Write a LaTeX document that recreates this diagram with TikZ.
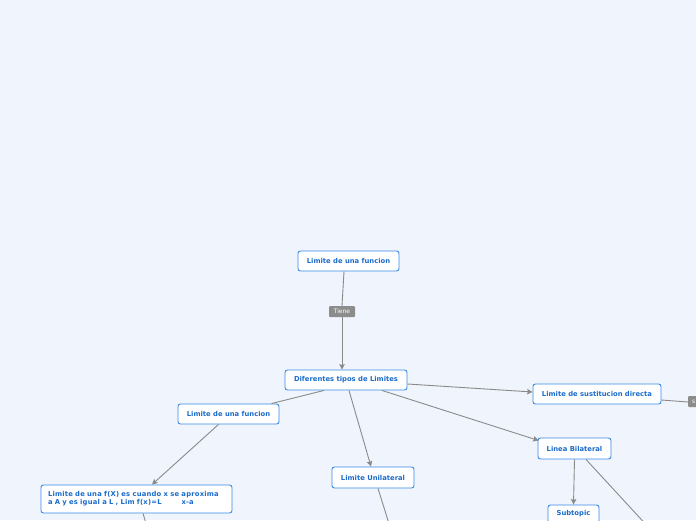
\documentclass[tikz,border=0pt]{standalone}
\usepackage{fontspec}
\setmainfont{DejaVu Sans}
\usetikzlibrary{arrows.meta,calc}
\definecolor{bgc}{HTML}{F0F4FC}
\definecolor{bordc}{HTML}{3A8AE6}
\definecolor{txtc}{HTML}{1B6CCB}
\definecolor{edgec}{HTML}{8A8A8A}
\definecolor{lblc}{HTML}{8C8C8C}
\tikzset{
  topic/.style={draw=bordc, line width=0.9pt, fill=white, rounded corners=2.5pt,
    text=txtc, font=\fontsize{6.8}{8.2}\selectfont\bfseries, inner sep=0pt, align=center},
  lbl/.style={fill=lblc, rounded corners=1pt, text=white, inner sep=0pt,
    font=\fontsize{6}{7}\selectfont, minimum height=11pt},
  conn/.style={draw=edgec, line width=0.9pt},
  arr/.style={conn, -{Stealth[length=5.5pt,width=5.5pt,inset=1pt]}}
}
\begin{document}
\begin{tikzpicture}[x=1pt,y=-1pt]
\clip (0,0) rectangle (696,520);
\fill[bgc] (0,0) rectangle (696,520);
\node[topic, minimum width=101pt, minimum height=20pt] (A) at (348.5,261) {Limite de una funcion};
\node[lbl, minimum width=26pt] (T) at (342,311.5) {Tiene};
\node[topic, minimum width=122pt, minimum height=20pt] (B) at (346,380) {Diferentes tipos de Limites};
\node[topic, minimum width=101pt, minimum height=20pt] (C) at (228.5,414) {Limite de una funcion};
\node[topic, minimum width=191pt, minimum height=28pt, text width=177pt, align=left,
  font=\fontsize{6.8}{8.2}\selectfont\bfseries\addfontfeature{LetterSpace=3}] (D) at (136.5,499)
  {Limite de una f(X) es cuando x se aproxima\\a A y es igual a L , Lim f(x)=L\hspace{20pt}x-a};
\node[topic, minimum width=82pt, minimum height=21pt] (E) at (373,477.5) {Limite Unilateral};
\node[topic, minimum width=128pt, minimum height=20pt] (F) at (597,394) {Limite de sustitucion directa};
\node[topic, minimum width=73pt, minimum height=21pt] (G) at (574.5,448.5) {Linea Bilateral};
\node[topic, minimum width=51pt, minimum height=18pt] (H) at (573.5,514) {Subtopic};
\node[lbl, minimum width=30pt, anchor=west, text width=26pt, align=left] (S) at (688,401.5) {\hspace{2pt}s};
\coordinate (Doff) at (148,530);
\coordinate (Eoff) at (391,530);
\coordinate (Goff) at (651,530);
\draw[conn] ($(A.south)+(-4.5,0)$) -- (T.north);
\draw[arr] (T.south) -- ($(B.north)+(-4,0)$);
\draw[conn] ($(B.south)+(-22,0)$) -- ($(C.north)+(43,0)$);
\draw[arr] ($(C.south)+(-10,0)$) -- ($(D.north)+(15.5,0)$);
\draw[conn] ($(D.south)+(6.5,0)$) -- (Doff);
\draw[arr] ($(B.south)+(3,0)$) -- ($(E.north)+(-2,0)$);
\draw[arr] ($(B.east)+(0,4)$) -- ($(F.west)+(0,-2)$);
\draw[arr] ($(B.south)+(36,0)$) -- ($(G.west)+(1,-8)$);
\draw[arr] (G.south) -- (H.north);
\draw[conn] ($(G.south)+(11.5,0)$) -- (Goff);
\draw[conn] ($(E.south)+(5,0)$) -- (Eoff);
\draw[conn] ($(F.east)+(0,6)$) -- ($(S.west)+(0,0.5)$);
\end{tikzpicture}
\end{document}
